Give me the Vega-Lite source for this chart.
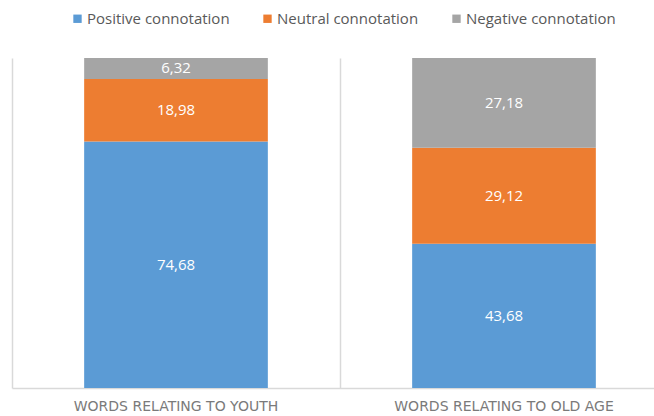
{
  "$schema": "https://vega.github.io/schema/vega-lite/v6.json",
  "autosize": {"type": "none"},
  "padding": {"left": 12, "top": 58, "right": 0, "bottom": 28},
  "width": 656,
  "height": 330,
  "background": "white",
  "config": {
    "view": {"stroke": null},
    "locale": {"number": {"decimal": ",", "thousands": ".", "grouping": [3], "currency": ["", " €"]}},
    "font": "Open Sans"
  },
  "data": {
    "values": [
      {"group": "WORDS RELATING TO YOUTH", "connotation": "Positive connotation", "value": 74.68},
      {"group": "WORDS RELATING TO YOUTH", "connotation": "Neutral connotation", "value": 18.98},
      {"group": "WORDS RELATING TO YOUTH", "connotation": "Negative connotation", "value": 6.32},
      {"group": "WORDS RELATING TO OLD AGE", "connotation": "Positive connotation", "value": 43.68},
      {"group": "WORDS RELATING TO OLD AGE", "connotation": "Neutral connotation", "value": 29.12},
      {"group": "WORDS RELATING TO OLD AGE", "connotation": "Negative connotation", "value": 27.18}
    ]
  },
  "transform": [
    {"stack": "value", "groupby": ["group"], "sort": [{"field": "connotation", "order": "descending"}], "as": ["v0", "v1"]},
    {"calculate": "(datum.v0 + datum.v1) / 2", "as": "mid"}
  ],
  "encoding": {
    "x": {
      "field": "group",
      "type": "nominal",
      "sort": ["WORDS RELATING TO YOUTH", "WORDS RELATING TO OLD AGE"],
      "scale": {"paddingInner": 0, "paddingOuter": 0},
      "axis": {
        "title": null,
        "labelAngle": 0,
        "bandPosition": 0,
        "ticks": false,
        "grid": true,
        "gridColor": "#d9d9d9",
        "gridWidth": 1.5,
        "domainColor": "#d9d9d9",
        "domainWidth": 1.5,
        "labelColor": "#7a7a7a",
        "labelFont": "DejaVu Sans",
        "labelFontSize": 14,
        "labelLimit": 400,
        "labelPadding": 11
      }
    }
  },
  "layer": [
    {
      "mark": {"type": "bar", "width": {"band": 0.56}},
      "encoding": {
        "y": {"field": "v0", "type": "quantitative", "scale": {"domain": [0, 100]}, "axis": null},
        "y2": {"field": "v1"},
        "color": {
          "field": "connotation",
          "type": "nominal",
          "scale": {
            "domain": ["Positive connotation", "Neutral connotation", "Negative connotation"],
            "range": ["#5B9BD5", "#ED7D31", "#A5A5A5"]
          },
          "legend": {
            "title": null,
            "orient": "none",
            "direction": "horizontal",
            "legendX": 58,
            "legendY": -47,
            "symbolType": "square",
            "symbolSize": 70,
            "symbolStrokeWidth": 0,
            "labelFontSize": 15,
            "labelFont": "Open Sans",
            "labelColor": "#595959",
            "labelOffset": 2,
            "columnPadding": 30
          }
        }
      }
    },
    {
      "mark": {"type": "text", "color": "white", "fontSize": 15, "font": "Open Sans"},
      "encoding": {
        "y": {"field": "mid", "type": "quantitative", "scale": {"domain": [0, 100]}},
        "text": {"field": "value", "type": "quantitative", "format": ".2f"}
      }
    }
  ]
}
